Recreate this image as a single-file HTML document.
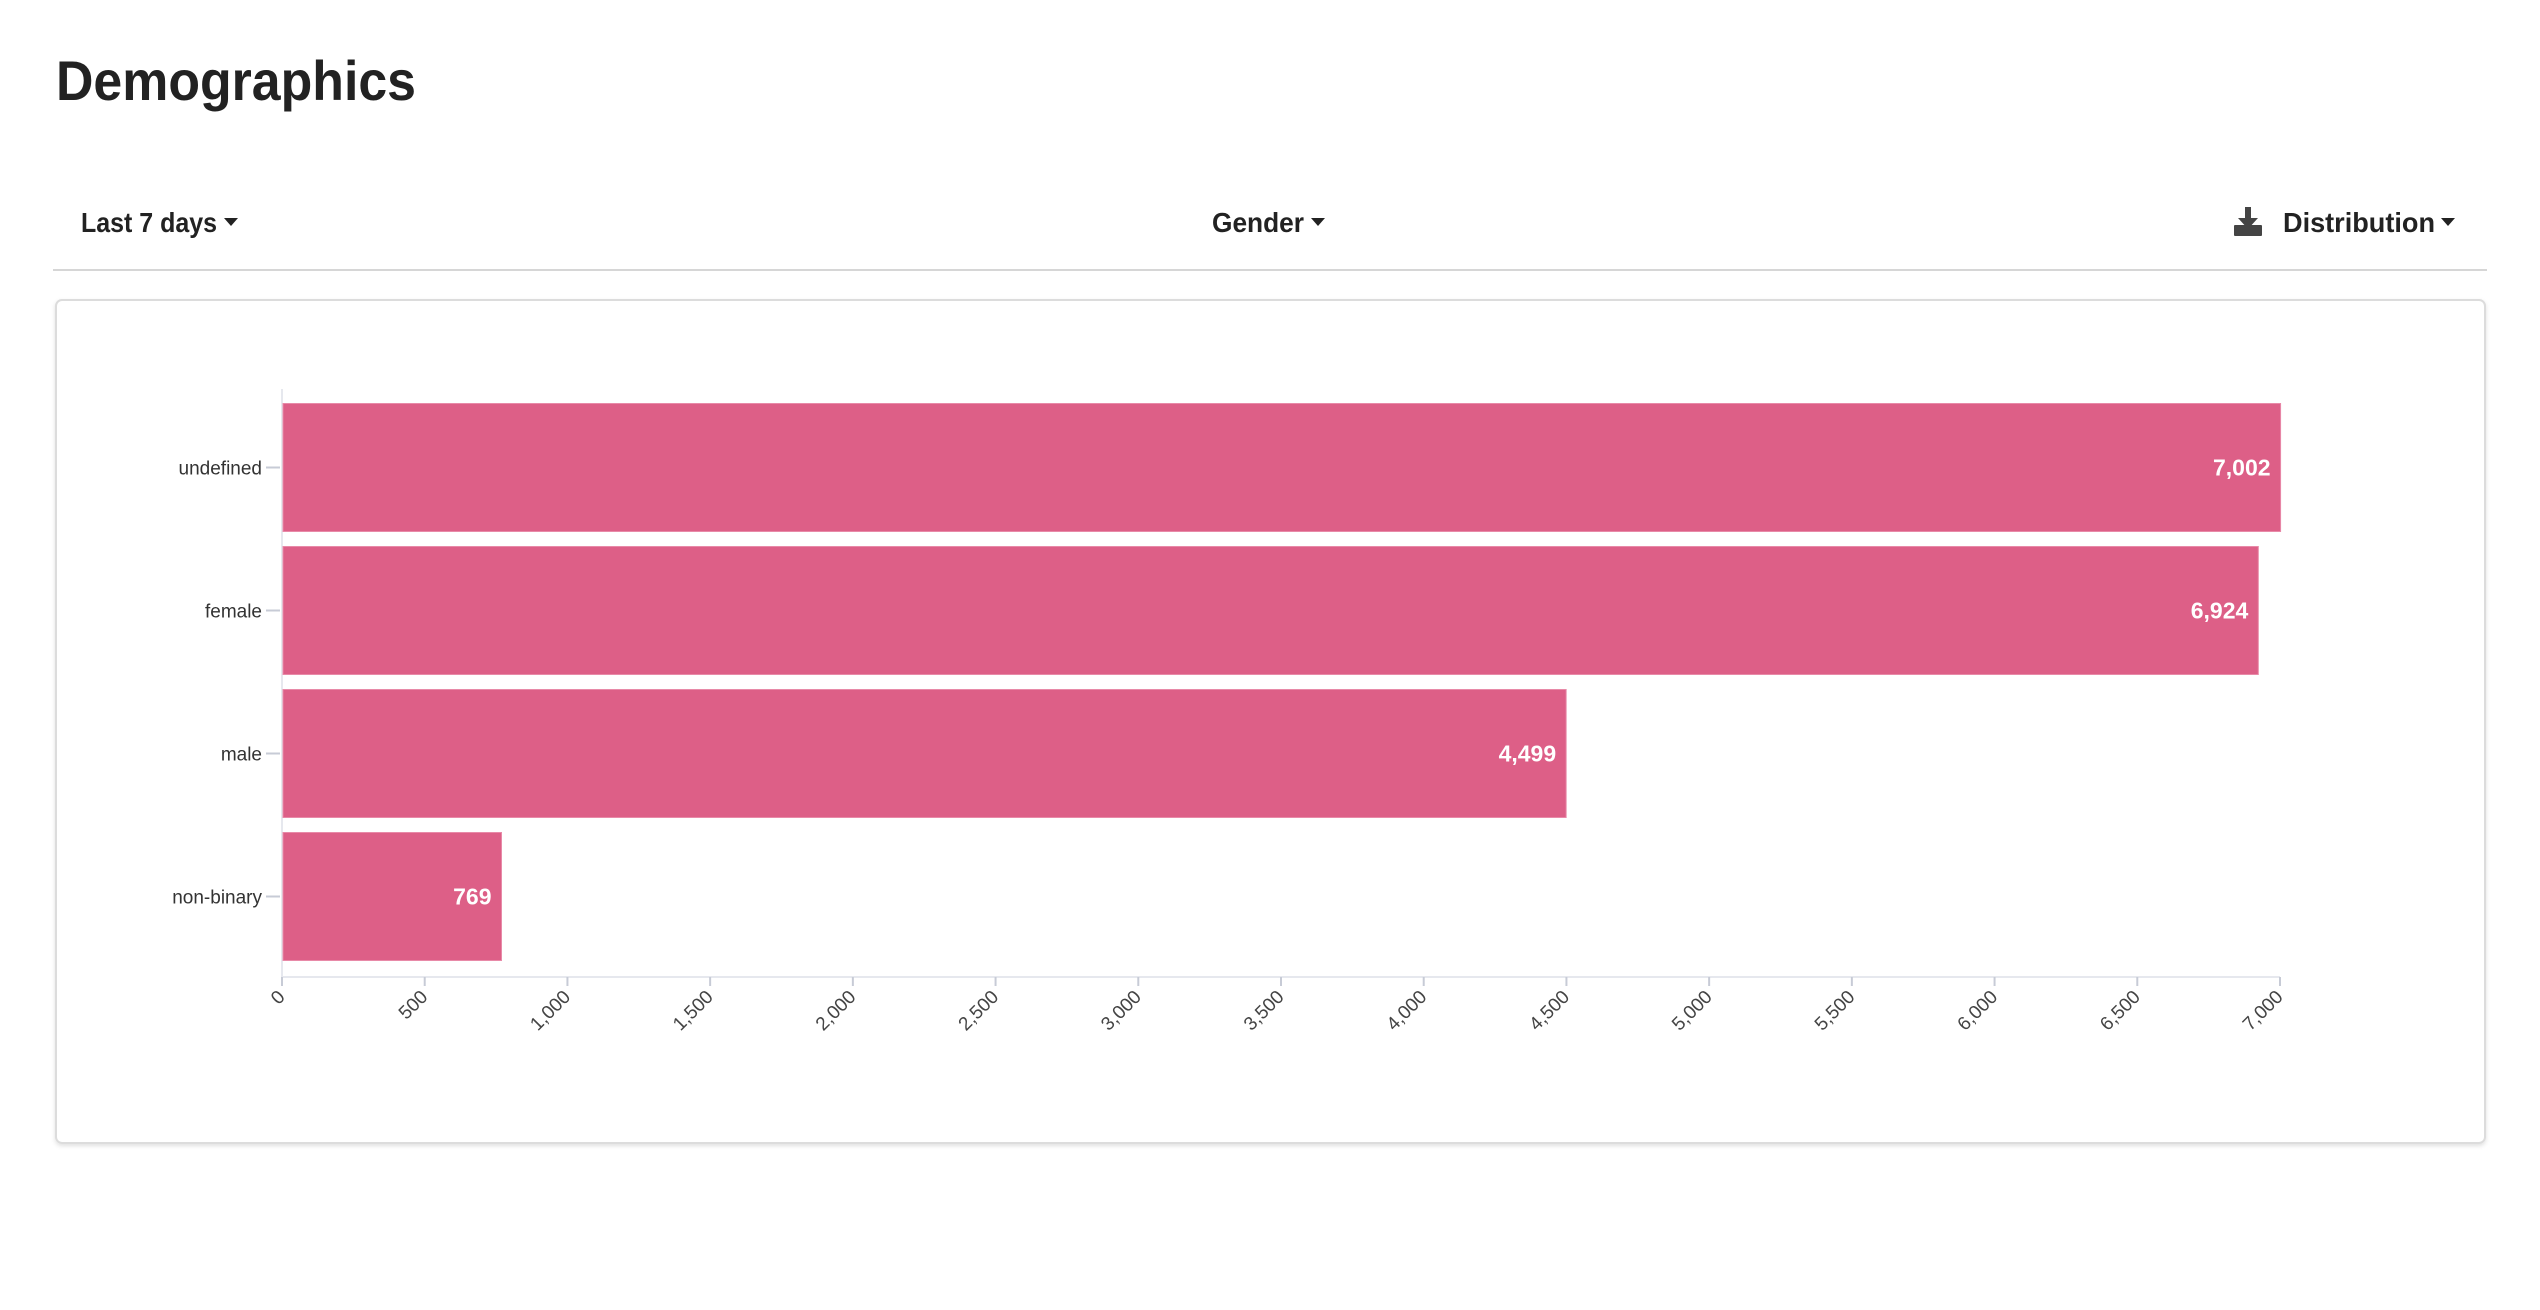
<!DOCTYPE html>
<html><head><meta charset="utf-8"><style>
html,body{margin:0;padding:0;background:#fff;width:2540px;height:1310px;overflow:hidden;font-family:"Liberation Sans",sans-serif;}
svg{display:block}
</style></head><body>
<svg width="2540" height="1310" viewBox="0 0 2540 1310">
  <defs>
    <filter id="sh" x="-5%" y="-5%" width="110%" height="110%"><feDropShadow dx="0" dy="2" stdDeviation="2" flood-color="#000" flood-opacity="0.12"/></filter>
  </defs>
  <text x="56" y="100" font-size="56" font-weight="bold" fill="#222" textLength="360" lengthAdjust="spacingAndGlyphs">Demographics</text>

  <g>
    <text x="81" y="232" font-size="28" font-weight="bold" fill="#222" textLength="136" lengthAdjust="spacingAndGlyphs">Last 7 days</text>
    <path d="M224 218 L238 218 L231 226 Z" fill="#222"/>
  </g>
  <g>
    <text x="1212" y="232" font-size="28" font-weight="bold" fill="#222" textLength="92" lengthAdjust="spacingAndGlyphs">Gender</text>
    <path d="M1311 218 L1325 218 L1318 226 Z" fill="#222"/>
  </g>
  <g>
    <rect x="2245" y="207" width="6" height="14" fill="#444"/>
    <path d="M2238 218 L2258 218 L2248 229 Z" fill="#444"/>
    <rect x="2234" y="225" width="28" height="11" rx="1" fill="#444"/>
  </g>
  <g>
    <text x="2283" y="232" font-size="28" font-weight="bold" fill="#222" textLength="152" lengthAdjust="spacingAndGlyphs">Distribution</text>
    <path d="M2441 218 L2455 218 L2448 226 Z" fill="#222"/>
  </g>
  <rect x="53" y="269" width="2434" height="2" fill="#d6d6d6"/>

  <rect x="56" y="300" width="2429" height="843" rx="6" fill="#fff" stroke="#dcdcdc" stroke-width="2" filter="url(#sh)"/>

  <g id="chart"></g>
</svg>
<script>
const categories = ["undefined","female","male","non-binary"];
const values = [7002, 6924, 4499, 769];
const ticks = [0,500,1000,1500,2000,2500,3000,3500,4000,4500,5000,5500,6000,6500,7000];

const NS = "http://www.w3.org/2000/svg";
const g = document.getElementById("chart");
const X0 = 282, X1 = 2280, XMAX = 7000;
const Y0 = 396, Y1 = 968;
function xScale(v){ return X0 + (X1 - X0) * v / XMAX; }
const step = (Y1 - Y0) / categories.length;
const barH = step * 0.895;
function yBand(i){ return Y0 + i * step + (step - barH) / 2; }
function fmt(v){ return v.toLocaleString("en-US"); }
function mk(tag, attrs){ const e = document.createElementNS(NS, tag); for (const k in attrs) e.setAttribute(k, attrs[k]); return e; }

const yl = mk("line",{x1:X0,y1:389,x2:X0,y2:977,stroke:"#e6e8ee","stroke-width":2});


g.appendChild(yl);
const xl = mk("line",{x1:X0,y1:977,x2:X1,y2:977,stroke:"#e6e8ee","stroke-width":2});


g.appendChild(xl);

categories.forEach((c,i)=>{
  const y = yBand(i);
  const cy = y + barH/2;
  const r = mk("rect",{x:X0+1,y:y,width:xScale(values[i])-X0-1,height:barH,fill:"#dd5f87",stroke:"#e88aa8","stroke-width":1});
  
  
  g.appendChild(r);
  const t = mk("text",{x:xScale(values[i])-10,y:cy+8,"font-size":23,"font-weight":"bold",fill:"#fff","text-anchor":"end"});
  t.textContent = fmt(values[i]);
  
  
  g.appendChild(t);
  const tk = mk("line",{x1:X0-16,y1:cy,x2:X0-2,y2:cy,stroke:"#c7cbd6","stroke-width":2});
  
  
  g.appendChild(tk);
  const l = mk("text",{x:X0-20,y:cy+7,"font-size":19,fill:"#333","text-anchor":"end"});
  l.textContent = c;
  
  
  g.appendChild(l);
});

ticks.forEach(v=>{
  const x = xScale(v);
  const tk = mk("line",{x1:x,y1:977,x2:x,y2:986,stroke:"#c7cbd6","stroke-width":2});
  
  
  g.appendChild(tk);
  const t = mk("text",{x:x+4,y:998,"font-size":19,fill:"#444","text-anchor":"end",transform:"rotate(-45 "+(x+4)+" 998)"});
  t.textContent = fmt(v);
  
  
  g.appendChild(t);
});
</script>
</body></html>
